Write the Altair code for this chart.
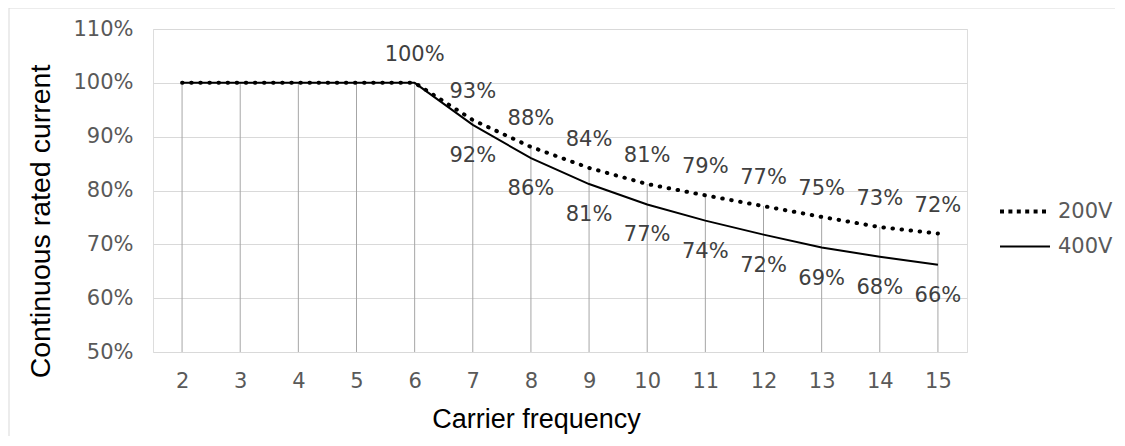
import altair as alt
import pandas as pd

freq = [2, 3, 4, 5, 6, 7, 8, 9, 10, 11, 12, 13, 14, 15]
v200 = [1.00, 1.00, 1.00, 1.00, 1.00, 0.931, 0.881, 0.842, 0.812, 0.791, 0.771, 0.751, 0.732, 0.720]
v400 = [1.00, 1.00, 1.00, 1.00, 1.00, 0.922, 0.860, 0.812, 0.774, 0.744, 0.718, 0.694, 0.677, 0.662]
series = ["200V", "400V"]
y_ticks = [0.5, 0.6, 0.7, 0.8, 0.9, 1.0, 1.1]
label_start = {"200V": 6, "400V": 7}

long = pd.DataFrame({
    "freq": freq * 2,
    "value": v200 + v400,
    "series": ["200V"] * len(freq) + ["400V"] * len(freq),
})
drop = pd.DataFrame({"freq": freq, "top": [max(a, b) for a, b in zip(v200, v400)]})

LABEL_FONT = "DejaVu Sans"
TITLE_FONT = "Liberation Sans"

x_enc = alt.X(
    "freq:O", sort=freq,
    scale=alt.Scale(type="point", padding=0.5),
    axis=alt.Axis(
        title="Carrier frequency", labelAngle=0, ticks=False, tickSize=0, domain=False,
        grid=False, labelPadding=18, labelFont=LABEL_FONT, labelFontSize=21,
        labelColor="#595959", titleFont=TITLE_FONT, titleFontSize=27,
        titleFontWeight="normal", titleColor="#000000", titleX=383, titleY=75,
        titleAlign="center", titleBaseline="alphabetic",
    ),
)
y_scale = alt.Scale(domain=[0.5, 1.1], nice=False, zero=False)
y_axis = alt.Axis(
    title="Continuous rated current", values=y_ticks, format=".0%", ticks=False,
    tickSize=0, domain=False, grid=True, gridColor="#D9D9D9", gridWidth=1,
    labelPadding=20, labelFont=LABEL_FONT, labelFontSize=21, labelColor="#595959",
    titleFont=TITLE_FONT, titleFontSize=28.5, titleFontWeight="normal",
    titleColor="#000000", titleAngle=270, titleX=-113, titleY=192,
    titleAlign="center", titleBaseline="middle",
)

frame = alt.Chart(pd.DataFrame({"k": [0]})).mark_rect(
    fillOpacity=0, stroke="#D9D9D9", strokeWidth=1
).encode(
    x=alt.value(-144), x2=alt.value(1300), y=alt.value(-21), y2=alt.value(700)
)

drops = alt.Chart(drop).mark_rule(color="#A6A6A6", strokeWidth=1).encode(
    x=x_enc,
    y=alt.Y("top:Q", scale=y_scale, axis=y_axis),
    y2=alt.datum(0.5),
)

base = alt.Chart(long).encode(
    x=x_enc,
    y=alt.Y("value:Q", scale=y_scale, axis=y_axis),
)

line400 = base.transform_filter(alt.datum.series == "400V").mark_line(
    color="#000000", strokeWidth=2
)
line200 = base.transform_filter(alt.datum.series == "200V").mark_line(
    color="#000000", strokeWidth=4, strokeCap="round", strokeDash=[0.5, 8.6]
)

# legend-only layer (no rows drawn)
legend_layer = base.transform_filter("datum.freq < 0").mark_line(color="#000000").encode(
    strokeDash=alt.StrokeDash(
        "series:N",
        scale=alt.Scale(domain=series, range=[[4, 4.4], [1, 0]]),
        legend=alt.Legend(
            title=None, orient="none", legendX=845, legendY=165,
            symbolType="stroke", symbolSize=2500, clipHeight=35, rowPadding=0,
            symbolStrokeColor="#000000", labelFont=LABEL_FONT, labelFontSize=21,
            labelColor="#595959", labelOffset=6,
        ),
    ),
    strokeWidth=alt.StrokeWidth("series:N", scale=alt.Scale(domain=series, range=[4, 2])),
)

lab200 = base.transform_filter(
    (alt.datum.series == "200V") & (alt.datum.freq >= label_start["200V"])
).mark_text(font=LABEL_FONT, fontSize=21, color="#404040", dy=-28, baseline="middle").encode(
    text=alt.Text("value:Q", format=".0%")
)
lab400 = base.transform_filter(
    (alt.datum.series == "400V") & (alt.datum.freq >= label_start["400V"])
).mark_text(font=LABEL_FONT, fontSize=21, color="#404040", dy=31, baseline="middle").encode(
    text=alt.Text("value:Q", format=".0%")
)

chart = alt.layer(frame, drops, line400, line200, legend_layer, lab200, lab400).properties(
    width=814, height=323,
    autosize=alt.AutoSizeParams(type="none"),
    padding={"left": 145, "top": 21, "right": 148, "bottom": 84},
).configure_view(stroke=None).configure(background="#FFFFFF")

chart.save("out.html", embed_options={"renderer": "svg", "actions": False})
